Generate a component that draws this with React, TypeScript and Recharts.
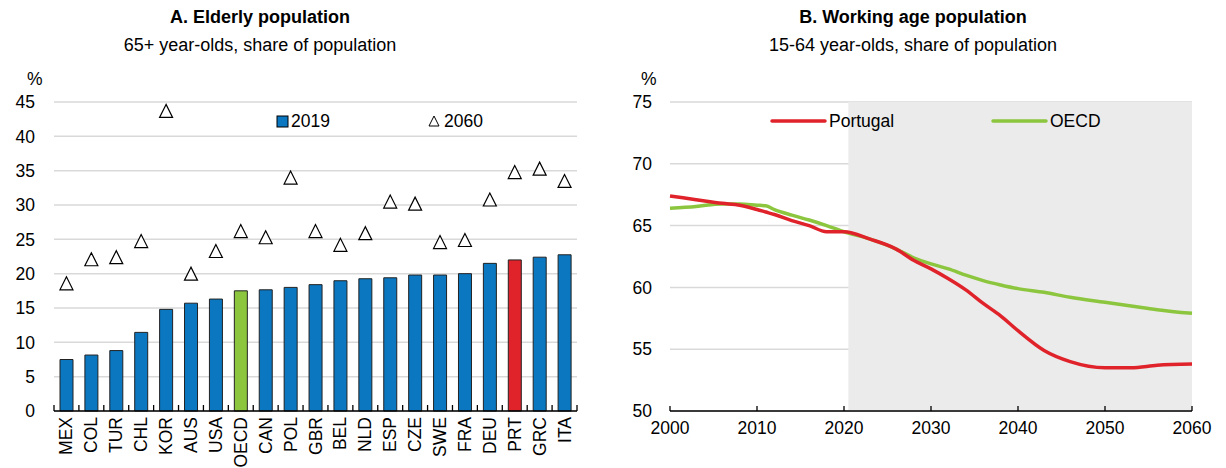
import React from 'react';
import {
  ComposedChart,
  Bar,
  Scatter,
  XAxis,
  YAxis,
  CartesianGrid,
  Cell,
  LineChart,
  Line,
  ReferenceArea,
} from 'recharts';

// ---------- Panel A data ----------
const countries = ['MEX', 'COL', 'TUR', 'CHL', 'KOR', 'AUS', 'USA', 'OECD', 'CAN', 'POL', 'GBR', 'BEL', 'NLD', 'ESP', 'CZE', 'SWE', 'FRA', 'DEU', 'PRT', 'GRC', 'ITA'];
const share2019 = [7.5, 8.15, 8.8, 11.45, 14.8, 15.7, 16.3, 17.5, 17.65, 18.0, 18.4, 18.97, 19.26, 19.4, 19.8, 19.8, 20.0, 21.5, 22.0, 22.4, 22.75];
const share2060 = [18.6, 22.1, 22.4, 24.75, 43.7, 20.0, 23.3, 26.2, 25.3, 34.0, 26.2, 24.2, 25.9, 30.5, 30.2, 24.6, 24.9, 30.8, 34.8, 35.3, 33.5];
const ticksA = [0, 5, 10, 15, 20, 25, 30, 35, 40, 45];

// ---------- Panel B data ----------
const years = [2000, 2003, 2006, 2008, 2010, 2011, 2012, 2014, 2016, 2018, 2020, 2023, 2026, 2028, 2030, 2032, 2034, 2036, 2038, 2040, 2043, 2046, 2050, 2053, 2056, 2060];
const portugal = [67.4, 67.1, 66.8, 66.65, 66.3, 66.1, 65.9, 65.4, 65.0, 64.5, 64.5, 63.9, 63.1, 62.2, 61.5, 60.7, 59.8, 58.7, 57.7, 56.5, 54.9, 54.0, 53.5, 53.5, 53.7, 53.8];
const oecd = [66.4, 66.55, 66.75, 66.75, 66.65, 66.6, 66.3, 65.85, 65.45, 65.0, 64.5, 63.9, 63.1, 62.4, 61.9, 61.5, 61.0, 60.55, 60.2, 59.9, 59.6, 59.2, 58.8, 58.5, 58.2, 57.9];
const ticksBY = [50, 55, 60, 65, 70, 75];
const ticksBX = [2000, 2010, 2020, 2030, 2040, 2050, 2060];
const projectionStart = 2020.5;

const BLUE = '#0a77c0';
const GREEN = '#8cc63f';
const RED = '#e0232b';
const GRID = '#d9d9d9';
const FONT = '"Liberation Sans", Arial, sans-serif';
const FS = 17.5;

const dataA = countries.map((c, i) => ({ name: c, v2019: share2019[i], v2060: share2060[i] }));
const dataB = years.map((y, i) => ({ year: y, portugal: portugal[i], oecd: oecd[i] }));

const barColor = (c: string) => (c === 'OECD' ? GREEN : c === 'PRT' ? RED : BLUE);

// Geometry of panel A
const A_W = 610;
const A_H = 468;
const A_LEFT = 54;
const A_RIGHT = 577;
const A_TOP = 102;
const A_BOTTOM = 411;
const BAND = (A_RIGHT - A_LEFT) / countries.length;

const CatTick = (props: any) => {
  const { x, y, payload, index } = props;
  const half = BAND / 2;
  const isLast = index === countries.length - 1;
  return (
    <g>
      <line x1={x - half} x2={x - half} y1={y - 6} y2={y} stroke="#000" strokeWidth={1.3} />
      {isLast && <line x1={x + half} x2={x + half} y1={y - 6} y2={y} stroke="#000" strokeWidth={1.3} />}
      <text
        x={x}
        y={y + 6}
        transform={`rotate(-90, ${x}, ${y + 6})`}
        textAnchor="end"
        dominantBaseline="central"
        fontSize={FS}
        fontFamily={FONT}
        fill="#000"
      >
        {payload.value}
      </text>
    </g>
  );
};

const Triangle = (props: any) => {
  const { cx, cy } = props;
  if (cx == null || cy == null) return null;
  const h = 6.5;
  return (
    <polygon
      points={`${cx},${cy - h} ${cx - h},${cy + h} ${cx + h},${cy + h}`}
      fill="#fff"
      stroke="#000"
      strokeWidth={1.2}
    />
  );
};

const legendText: React.CSSProperties = { fontFamily: FONT, fontSize: FS, lineHeight: '20px', color: '#000' };

const LegendA = () => (
  <>
    <div style={{ position: 'absolute', left: 276, top: 111, display: 'flex', alignItems: 'center', ...legendText }}>
      <svg width={13} height={13} style={{ marginRight: 2 }}>
        <rect x={1} y={1} width={11} height={11} fill={BLUE} stroke="#000" strokeWidth={1} />
      </svg>
      <span>2019</span>
    </div>
    <div style={{ position: 'absolute', left: 428, top: 111, display: 'flex', alignItems: 'center', ...legendText }}>
      <svg width={12} height={12} style={{ marginRight: 4 }}>
        <polygon points="6,1 1,11 11,11" fill="#fff" stroke="#000" strokeWidth={1} />
      </svg>
      <span>2060</span>
    </div>
  </>
);

const LegendB = () => (
  <>
    <div style={{ position: 'absolute', left: 770, top: 111, display: 'flex', alignItems: 'center', ...legendText }}>
      <svg width={57} height={6} style={{ marginRight: 2 }}>
        <line x1={2} x2={55} y1={3} y2={3} stroke={RED} strokeWidth={3.5} strokeLinecap="round" />
      </svg>
      <span>Portugal</span>
    </div>
    <div style={{ position: 'absolute', left: 991, top: 111, display: 'flex', alignItems: 'center', ...legendText }}>
      <svg width={57} height={6} style={{ marginRight: 2 }}>
        <line x1={2} x2={55} y1={3} y2={3} stroke={GREEN} strokeWidth={3.5} strokeLinecap="round" />
      </svg>
      <span>OECD</span>
    </div>
  </>
);

const Title = ({ cx, title, sub }: { cx: number; title: string; sub: string }) => (
  <div
    style={{
      position: 'absolute',
      left: cx - 250,
      top: 4,
      width: 500,
      textAlign: 'center',
      fontFamily: FONT,
      color: '#000',
    }}
  >
    <div style={{ fontWeight: 'bold', fontSize: 18, lineHeight: '27px' }}>{title}</div>
    <div style={{ fontSize: 18, lineHeight: '27px', marginTop: 1 }}>{sub}</div>
  </div>
);

// Geometry of panel B
const B_X = 613;
const B_W = 613;
const B_LEFT = 670 - B_X;
const B_RIGHT = 1192 - B_X;

export default function App() {
  return (
    <div style={{ position: 'absolute', left: 0, top: 0, width: 1226, height: 468, background: '#fff', overflow: 'hidden' }}>
      <div style={{ position: 'absolute', left: 0, top: 0 }}>
        <ComposedChart
          width={A_W}
          height={A_H}
          data={dataA}
          margin={{ top: A_TOP, right: A_W - A_RIGHT, bottom: 0, left: 0 }}
        >
          <CartesianGrid vertical={false} stroke={GRID} strokeWidth={1.5} />
          <XAxis
            dataKey="name"
            type="category"
            interval={0}
            height={A_H - A_BOTTOM}
            tickLine={false}
            tickSize={0}
            tickMargin={0}
            axisLine={{ stroke: '#000', strokeWidth: 1.3 }}
            tick={<CatTick />}
          />
          <YAxis
            width={A_LEFT}
            domain={[0, 45]}
            ticks={ticksA}
            interval={0}
            axisLine={false}
            tickLine={false}
            tickSize={0}
            tickMargin={19}
            tick={{ fontSize: FS, fontFamily: FONT, fill: '#000' }}
          />
          <Bar dataKey="v2019" name="2019" barSize={13} stroke="#222" strokeWidth={1} isAnimationActive={false}>
            {dataA.map((d) => (
              <Cell key={d.name} fill={barColor(d.name)} />
            ))}
          </Bar>
          <Scatter dataKey="v2060" name="2060" shape={<Triangle />} isAnimationActive={false} />
        </ComposedChart>
      </div>

      <div style={{ position: 'absolute', left: B_X, top: 0 }}>
        <LineChart
          width={B_W}
          height={A_H}
          data={dataB}
          margin={{ top: A_TOP, right: B_W - B_RIGHT, bottom: 0, left: 0 }}
        >
          <ReferenceArea x1={projectionStart} x2={2060} y1={50} y2={75} fill="#ebebeb" fillOpacity={1} stroke="none" ifOverflow="visible" />
          <CartesianGrid vertical={false} stroke={GRID} strokeWidth={1.5} />
          <XAxis
            dataKey="year"
            type="number"
            domain={[2000, 2060]}
            ticks={ticksBX}
            interval={0}
            height={A_H - A_BOTTOM}
            axisLine={{ stroke: '#000', strokeWidth: 1.3 }}
            tickLine={{ stroke: '#000', strokeWidth: 1.3 }}
            tickSize={-5}
            tickMargin={16}
            tick={{ fontSize: FS, fontFamily: FONT, fill: '#000' }}
          />
          <YAxis
            width={B_LEFT}
            domain={[50, 75]}
            ticks={ticksBY}
            interval={0}
            axisLine={false}
            tickLine={false}
            tickSize={0}
            tickMargin={18}
            tick={{ fontSize: FS, fontFamily: FONT, fill: '#000' }}
          />
          <Line type="monotone" dataKey="oecd" name="OECD" stroke={GREEN} strokeWidth={3.5} dot={false} isAnimationActive={false} />
          <Line type="monotone" dataKey="portugal" name="Portugal" stroke={RED} strokeWidth={3.5} dot={false} isAnimationActive={false} />
        </LineChart>
      </div>

      <Title cx={260} title="A. Elderly population" sub="65+ year-olds, share of population" />
      <Title cx={913} title="B. Working age population" sub="15-64 year-olds, share of population" />
      <div style={{ position: 'absolute', left: 27, top: 69, ...legendText }}>%</div>
      <div style={{ position: 'absolute', left: 641, top: 69, ...legendText }}>%</div>
      <LegendA />
      <LegendB />
    </div>
  );
}
